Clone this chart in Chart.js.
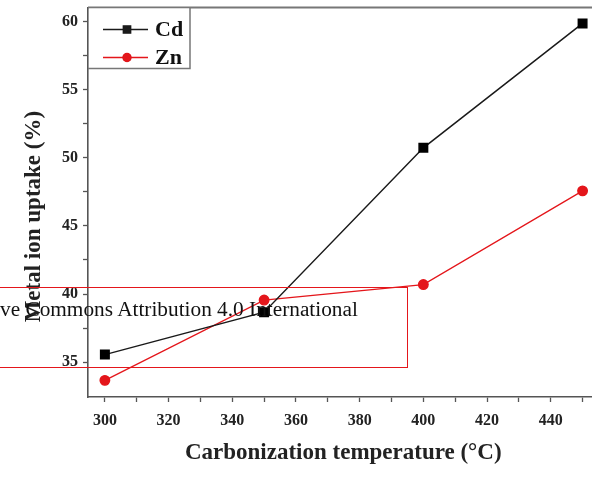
<!DOCTYPE html>
<html>
<head>
<meta charset="utf-8">
<script src="https://cdn.jsdelivr.net/npm/chart.js@4.4.1/dist/chart.umd.min.js"></script>
<style>
  html, body { margin: 0; padding: 0; background: #fff; overflow: hidden; width: 592px; height: 478px; }
  #wrap { position: relative; width: 592px; height: 478px; overflow: hidden; }
  canvas { position: absolute; left: 0; top: 0; }
  #note { position: absolute; left: -2px; top: 287px; width: 410px; height: 81px; border: 1.5px solid #e4161b; box-sizing: border-box; pointer-events: none; }
  #noteText { position: absolute; left: 0; top: 299px; font-family: 'Liberation Serif', 'Times New Roman', serif; font-size: 21.3px; line-height: 20px; color: #111; white-space: nowrap; }
</style>
</head>
<body>
<div id="wrap">
  <canvas id="c" width="606" height="478"></canvas>
  <div id="note"></div>
  <div id="noteText">ve Commons Attribution 4.0 International</div>
</div>
<script>
// ---- data ----
const temperatures = [300, 350, 400, 450];
const cdUptake = [35.56, 38.67, 50.73, 59.85];
const znUptake = [33.67, 39.56, 40.70, 47.57];
const seriesNames = ['Cd', 'Zn'];
const xTickValues = [300, 310, 320, 330, 340, 350, 360, 370, 380, 390, 400, 410, 420, 430, 440, 450];
const xLabelValues = [300, 320, 340, 360, 380, 400, 420, 440];
const yTickValues = [35, 37.5, 40, 42.5, 45, 47.5, 50, 52.5, 55, 57.5, 60];
const yLabelValues = [35, 40, 45, 50, 55, 60];
const xTitle = 'Carbonization temperature (\u00B0C)';
const yTitle = 'Metal ion uptake (%)';

const X_MIN = 294.7, X_MAX = 455;
const Y_MIN = 32.45, Y_MAX = 61.02;

const serif = "'Liberation Serif', 'Times New Roman', serif";
const axisColor = '#555';

const frameAndLegend = {
  id: 'frameAndLegend',
  afterDatasetsDraw(chart) {
    const { ctx, chartArea: a } = chart;
    ctx.save();
    // top frame line
    ctx.strokeStyle = '#777';
    ctx.lineWidth = 2;
    ctx.beginPath();
    ctx.moveTo(a.left, a.top);
    ctx.lineTo(a.right, a.top);
    ctx.stroke();
    // legend box
    const x0 = a.left, y0 = a.top, w = 102, h = 61;
    ctx.fillStyle = '#fff';
    ctx.fillRect(x0 + 1, y0 + 1, w - 1, h - 1);
    ctx.strokeStyle = '#777';
    ctx.lineWidth = 1.5;
    ctx.beginPath();
    ctx.moveTo(x0 + w, y0);
    ctx.lineTo(x0 + w, y0 + h);
    ctx.lineTo(x0, y0 + h);
    ctx.stroke();
    chart.data.datasets.forEach((ds, i) => {
      const y = y0 + 22 + i * 28;
      ctx.strokeStyle = ds.borderColor;
      ctx.lineWidth = ds.borderWidth;
      ctx.beginPath();
      ctx.moveTo(x0 + 15, y);
      ctx.lineTo(x0 + 60, y);
      ctx.stroke();
      Chart.helpers.drawPoint(ctx, {
        pointStyle: ds.pointStyle, radius: ds.pointRadius * 0.85, borderWidth: 1, rotation: 0
      }, x0 + 39, y);
      ctx.fillStyle = ds.borderColor;
      ctx.fill();
      ctx.fillStyle = '#111';
      ctx.font = 'bold 22px ' + serif;
      ctx.textBaseline = 'middle';
      ctx.textAlign = 'left';
      ctx.fillText(ds.label, x0 + 67, y + 1);
    });
    ctx.restore();
  }
};

new Chart(document.getElementById('c'), {
  type: 'line',
  data: {
    datasets: [
      {
        label: seriesNames[0],
        data: temperatures.map((t, i) => ({ x: t, y: cdUptake[i] })),
        borderColor: '#1a1a1a',
        backgroundColor: '#000',
        pointBackgroundColor: '#000',
        pointBorderColor: '#000',
        borderWidth: 1.5,
        pointStyle: 'rect',
        pointRadius: 6,
        tension: 0
      },
      {
        label: seriesNames[1],
        data: temperatures.map((t, i) => ({ x: t, y: znUptake[i] })),
        borderColor: '#e4161b',
        backgroundColor: '#e4161b',
        pointBackgroundColor: '#e4161b',
        pointBorderColor: '#e4161b',
        borderWidth: 1.3,
        pointStyle: 'circle',
        pointRadius: 4.8,
        tension: 0
      }
    ]
  },
  options: {
    responsive: false,
    animation: false,
    events: [],
    layout: { padding: { top: 5, left: 0, right: 0, bottom: 0 } },
    plugins: { legend: { display: false }, tooltip: { enabled: false } },
    scales: {
      x: {
        type: 'linear',
        min: X_MIN,
        max: X_MAX,
        afterBuildTicks: s => { s.ticks = xTickValues.map(v => ({ value: v })); },
        afterFit: s => { s.height = 81; s.paddingLeft = 0; s.paddingRight = 0; },
        ticks: {
          padding: 9,
          color: '#222',
          font: { family: serif, size: 16, weight: 'bold' },
          callback: v => xLabelValues.includes(v) ? String(v) : ''
        },
        grid: { display: true, drawOnChartArea: false, drawTicks: true, tickLength: 5, color: axisColor, tickWidth: 1.3 },
        border: { display: true, color: axisColor, width: 1.6 },
        title: {
          display: true, text: xTitle, color: '#222',
          font: { family: serif, size: 23, weight: 'bold' },
          padding: { top: 0, bottom: 11 }
        }
      },
      y: {
        type: 'linear',
        min: Y_MIN,
        max: Y_MAX,
        afterBuildTicks: s => { s.ticks = yTickValues.map(v => ({ value: v })); },
        afterFit: s => { s.width = 88; s.paddingTop = 0; s.paddingBottom = 0; },
        ticks: {
          padding: 5,
          color: '#222',
          font: { family: serif, size: 16, weight: 'bold' },
          callback: v => yLabelValues.includes(v) ? String(v) : ''
        },
        grid: { display: true, drawOnChartArea: false, drawTicks: true, tickLength: 5, color: axisColor, tickWidth: 1.3 },
        border: { display: true, color: axisColor, width: 1.6 },
        title: {
          display: true, text: yTitle + '     ', color: '#222',
          font: { family: serif, size: 23, weight: 'bold' },
          padding: { top: 20, bottom: 0 }
        }
      }
    }
  },
  plugins: [frameAndLegend]
});
</script>
</body>
</html>
